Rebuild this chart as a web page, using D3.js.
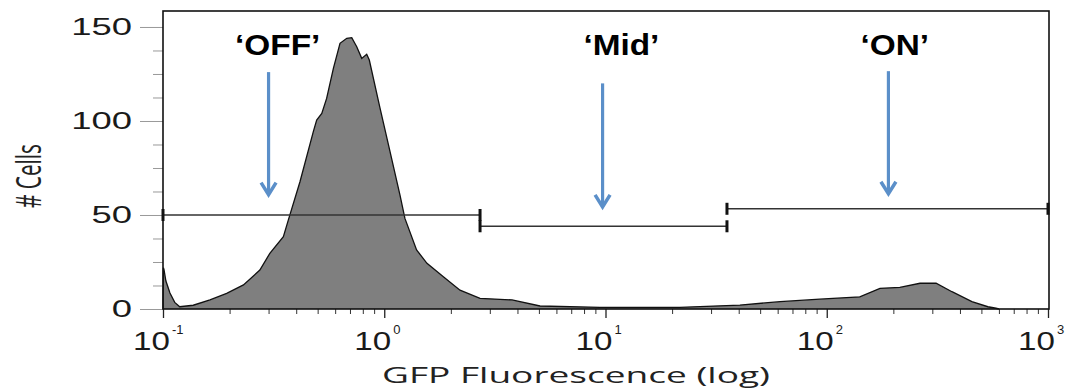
<!DOCTYPE html>
<html>
<head>
  <meta charset="utf-8">
  <title>GFP histogram</title>
  <script src="https://cdn.jsdelivr.net/npm/d3@7"></script>
  <style>
    body { margin: 0; background: #fff; }
  </style>
</head>
<body>
  <script>
    // Histogram: fluorescence (log x) vs # cells
    const fluor = [0.1, 0.1004, 0.101, 0.103, 0.1075, 0.113, 0.119, 0.137, 0.163, 0.194, 0.231, 0.274, 0.304,
      0.35, 0.3684, 0.416, 0.478, 0.495, 0.522, 0.549, 0.589, 0.631, 0.677, 0.713, 0.751, 0.791, 0.833,
      0.856, 0.957, 1.062, 1.178, 1.24,
      1.40, 1.56, 1.85, 2.2, 2.71, 3.78, 5.06, 9.44, 21.7, 40.5, 61.5, 93, 141, 174, 214, 264, 312, 368,
      453, 535, 582, 600];
    const cells = [0, 22, 21, 15, 8.5, 3.5, 1.2, 2, 4.8, 8.3, 12.8, 20.7, 29.6,
      38.5, 47.3, 67.7, 94.3, 100.5, 104, 112, 128, 141.3, 144, 144.3, 139.5, 133.3, 135.5,
      132.4, 106.8, 83.7, 60.6, 48.2,
      31.4, 24.3, 17.2, 10, 5.7, 4.8, 1.6, 0.9, 0.9, 2.1, 3.9, 5.2, 6.5, 11, 11.5, 13.7, 13.7, 9.2,
      3.9, 1.2, 0.4, 0];

    // Gates
    const gateNames = ["\u2018OFF\u2019", "\u2018Mid\u2019", "\u2018ON\u2019"];
    const gateStart = [0.1, 2.71, 35.4];
    const gateEnd = [2.71, 35.4, 1000];
    const gateLevel = [50, 44, 53.3];

    // Annotations (arrow x, arrow top/tip in cells, label x)
    const arrowX = [0.3, 9.7, 190];
    const arrowTop = [126, 120, 126.5];
    const arrowTip = [60, 53.5, 60.5];
    const labelX = [0.33, 11.8, 203];
    const labelY = 135;

    // Axis ticks
    const xMajor = [0.1, 1, 10, 100, 1000];
    const xExp = ["-1", "0", "1", "2", "3"];
    const yMajor = [0, 50, 100, 150];

    const w = 1068, h = 390;
    const mLeft = 163, mRight = 1049, mTop = 11, mBottom = 309;

    const x = d3.scaleLog().domain([0.1, 1000]).range([mLeft, 1048]);
    const y = d3.scaleLinear().domain([0, 158.5]).range([mBottom, mTop]);

    const svg = d3.select("body").append("svg")
      .attr("width", w)
      .attr("height", h);

    // stretch text horizontally like the original
    function stretch(sel, f) {
      sel.each(function () {
        const len = this.getComputedTextLength();
        d3.select(this).attr("textLength", len * f).attr("lengthAdjust", "spacingAndGlyphs");
      });
    }

    // histogram
    const area = d3.area()
      .x(function (d, i) { return x(fluor[i]); })
      .y0(y(0))
      .y1(function (d) { return y(d); });
    const line = d3.line()
      .x(function (d, i) { return x(fluor[i]); })
      .y(function (d) { return y(d); });

    svg.append("path")
      .datum(cells)
      .attr("d", area)
      .attr("fill", "#7f7f7f");
    svg.append("path")
      .datum(cells)
      .attr("d", line)
      .attr("fill", "none")
      .attr("stroke", "#111")
      .attr("stroke-width", 1.3);

    // y axis
    const yMinor = d3.range(0, 151, 12.5).filter(function (v) { return v % 50 !== 0; });
    svg.append("g")
      .attr("transform", "translate(" + mLeft + ",0)")
      .call(d3.axisLeft(y).tickValues(yMinor).tickSize(10).tickFormat(""))
      .call(function (g) { g.select(".domain").remove(); })
      .selectAll("line").attr("stroke", "#999");
    const yAx = svg.append("g")
      .attr("transform", "translate(" + mLeft + ",0)")
      .call(d3.axisLeft(y).tickValues(yMajor).tickSize(23).tickPadding(8))
      .call(function (g) { g.select(".domain").remove(); });
    yAx.selectAll("line").attr("stroke", "#999");
    yAx.selectAll("text")
      .attr("font-family", "Liberation Sans, Arial, sans-serif")
      .attr("font-size", 23.5)
      .attr("fill", "#1a1a1a")
      .attr("dy", "0.30em")
      .call(stretch, 1.55);

    // x axis ticks
    const xMinor = [];
    for (const d of [0.1, 1, 10, 100]) {
      for (let k = 2; k < 10; k++) xMinor.push(d * k);
    }
    svg.append("g")
      .attr("transform", "translate(0," + mBottom + ")")
      .call(d3.axisBottom(x).tickValues(xMinor).tickSize(5).tickFormat(""))
      .call(function (g) { g.select(".domain").remove(); })
      .selectAll("line").attr("stroke", "#333");
    svg.append("g")
      .attr("transform", "translate(0," + mBottom + ")")
      .call(d3.axisBottom(x).tickValues(xMajor).tickSize(9).tickFormat(""))
      .call(function (g) { g.select(".domain").remove(); })
      .selectAll("line").attr("stroke", "#222").attr("stroke-width", 1.3);

    // x tick labels: 10 with exponent
    svg.selectAll("text.xbase")
      .data(xMajor)
      .enter()
      .append("text")
      .attr("class", "xbase")
      .text("10")
      .attr("x", function (d) { return x(d) + 7; })
      .attr("y", 350)
      .attr("text-anchor", "end")
      .attr("font-family", "Liberation Sans, Arial, sans-serif")
      .attr("font-size", 25.5)
      .attr("fill", "#1a1a1a")
      .call(stretch, 1.3);
    svg.selectAll("text.xexp")
      .data(xMajor)
      .enter()
      .append("text")
      .attr("class", "xexp")
      .text(function (d, i) { return xExp[i]; })
      .attr("x", function (d) { return x(d) + 9; })
      .attr("y", 334)
      .attr("font-family", "Liberation Sans, Arial, sans-serif")
      .attr("font-size", 13)
      .attr("fill", "#1a1a1a");

    // frame
    svg.append("rect")
      .attr("x", mLeft)
      .attr("y", mTop)
      .attr("width", mRight - mLeft)
      .attr("height", mBottom - mTop)
      .attr("fill", "none")
      .attr("stroke", "#111")
      .attr("stroke-width", 1.6);

    // gates
    const gates = svg.selectAll("g.gate")
      .data(gateLevel)
      .enter()
      .append("g")
      .attr("class", "gate");
    gates.append("line")
      .attr("x1", function (d, i) { return x(gateStart[i]); })
      .attr("x2", function (d, i) { return x(gateEnd[i]); })
      .attr("y1", function (d) { return y(d); })
      .attr("y2", function (d) { return y(d); })
      .attr("stroke", "#333")
      .attr("stroke-width", 1.6);
    gates.append("line")
      .attr("x1", function (d, i) { return x(gateStart[i]); })
      .attr("x2", function (d, i) { return x(gateStart[i]); })
      .attr("y1", function (d) { return y(d) - 6; })
      .attr("y2", function (d) { return y(d) + 6; })
      .attr("stroke", "#111")
      .attr("stroke-width", 3);
    gates.append("line")
      .attr("x1", function (d, i) { return x(gateEnd[i]); })
      .attr("x2", function (d, i) { return x(gateEnd[i]); })
      .attr("y1", function (d) { return y(d) - 6; })
      .attr("y2", function (d) { return y(d) + 6; })
      .attr("stroke", "#111")
      .attr("stroke-width", 3);

    // arrows
    const blue = "#5b8fc9";
    svg.selectAll("line.arrow")
      .data(arrowX)
      .enter()
      .append("line")
      .attr("class", "arrow")
      .attr("x1", function (d) { return x(d); })
      .attr("x2", function (d) { return x(d); })
      .attr("y1", function (d, i) { return y(arrowTop[i]); })
      .attr("y2", function (d, i) { return y(arrowTip[i]) - 2; })
      .attr("stroke", blue)
      .attr("stroke-width", 3.2);
    svg.selectAll("path.head")
      .data(arrowX)
      .enter()
      .append("path")
      .attr("class", "head")
      .attr("d", function (d, i) {
        const ax = x(d), ty = y(arrowTip[i]) - 1.5;
        return "M" + (ax - 7.5) + "," + (ty - 12) + "L" + ax + "," + ty + "L" + (ax + 7.5) + "," + (ty - 12);
      })
      .attr("fill", "none")
      .attr("stroke", blue)
      .attr("stroke-width", 3.5)
      .attr("stroke-linejoin", "miter");

    // gate labels
    svg.selectAll("text.glabel")
      .data(gateNames)
      .enter()
      .append("text")
      .attr("class", "glabel")
      .text(function (d) { return d; })
      .attr("x", function (d, i) { return x(labelX[i]); })
      .attr("y", y(labelY))
      .attr("text-anchor", "middle")
      .attr("font-family", "Liberation Sans, Arial, sans-serif")
      .attr("font-weight", "bold")
      .attr("font-size", 29)
      .attr("fill", "#000")
      .call(stretch, 1.15);

    // axis titles
    svg.append("text")
      .text("GFP Fluorescence (log)")
      .attr("x", 576)
      .attr("y", 383)
      .attr("text-anchor", "middle")
      .attr("font-family", "Open Sans, sans-serif")
      .attr("font-size", 21)
      .attr("fill", "#222")
      .attr("textLength", 388)
      .attr("lengthAdjust", "spacingAndGlyphs");

    svg.append("text")
      .text("# Cells")
      .attr("transform", "translate(41,176) rotate(-90)")
      .attr("text-anchor", "middle")
      .attr("font-family", "Open Sans, sans-serif")
      .attr("font-size", 34)
      .attr("fill", "#222")
      .attr("textLength", 64)
      .attr("lengthAdjust", "spacingAndGlyphs");
  </script>
</body>
</html>
